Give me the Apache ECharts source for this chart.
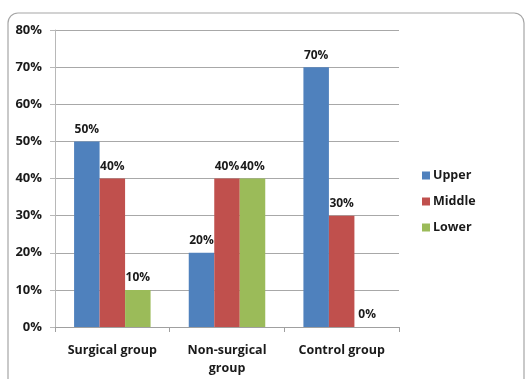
<!DOCTYPE html>
<html>
<head>
<meta charset="utf-8">
<script src="https://cdn.jsdelivr.net/npm/echarts@6/dist/echarts.min.js"></script>
<style>
  html, body { margin: 0; padding: 0; background: #fff; }
  #chart { width: 527px; height: 379px; }
</style>
</head>
<body>
<div id="chart"></div>
<script>
// Location of findings per treatment group (percent of patients)
const categories = ['Surgical group', 'Non-surgical\ngroup', 'Control group'];
const upper = [50, 20, 70];
const middle = [40, 40, 30];
const lower = [10, 40, 0];
const yTicks = [0, 10, 20, 30, 40, 50, 60, 70, 80];

const FONT = 'Open Sans';
const TEXT = '#1a1a1a';

const chart = echarts.init(document.getElementById('chart'), null, { renderer: 'canvas' });

function barSeries(name, data, color) {
  return {
    name: name,
    type: 'bar',
    data: data,
    barWidth: 25.5,
    barGap: '0%',
    itemStyle: { color: color },
    label: {
      show: true,
      position: 'top',
      distance: 6,
      formatter: p => p.value + '%',
      color: TEXT,
      fontFamily: FONT,
      fontWeight: 'bold',
      fontSize: 12
    }
  };
}

chart.setOption({
  animation: false,
  backgroundColor: '#fff',
  graphic: [{
    type: 'rect',
    shape: { x: 8, y: 13, width: 516, height: 400, r: 10 },
    style: { fill: 'none', stroke: '#a6a6a6', lineWidth: 1.2 },
    silent: true,
    z: -1
  }],
  grid: { left: 55, top: 30, right: 128, bottom: 52 },
  legend: {
    orient: 'vertical',
    left: 417,
    top: 164,
    itemWidth: 8,
    itemHeight: 8,
    itemGap: 13,
    icon: 'rect',
    textStyle: { color: TEXT, fontFamily: FONT, fontWeight: 'bold', fontSize: 12.5, padding: [0, 0, 0, -2] },
    data: ['Upper', 'Middle', 'Lower']
  },
  xAxis: {
    type: 'category',
    data: categories,
    axisLine: { lineStyle: { color: '#a0a0a0' } },
    axisTick: { show: true, length: 5, lineStyle: { color: '#a0a0a0' } },
    axisLabel: {
      interval: 0,
      hideOverlap: false,
      color: TEXT,
      fontFamily: FONT,
      fontWeight: 'bold',
      fontSize: 12.5,
      margin: 14,
      lineHeight: 18
    }
  },
  yAxis: {
    type: 'value',
    min: 0,
    max: 80,
    interval: 10,
    axisLine: { show: true, lineStyle: { color: '#b8b8b8' } },
    axisTick: { show: true, length: 5, lineStyle: { color: '#b8b8b8' } },
    splitLine: { lineStyle: { color: '#a8a8a8' } },
    axisLabel: {
      color: TEXT,
      fontFamily: FONT,
      fontWeight: 'bold',
      fontSize: 13,
      margin: 13,
      formatter: v => (yTicks.includes(v) ? v + '%' : '')
    }
  },
  series: [
    barSeries('Upper', upper, '#4f81bd'),
    barSeries('Middle', middle, '#c0504d'),
    barSeries('Lower', lower, '#9bbb59')
  ]
});
</script>
</body>
</html>
